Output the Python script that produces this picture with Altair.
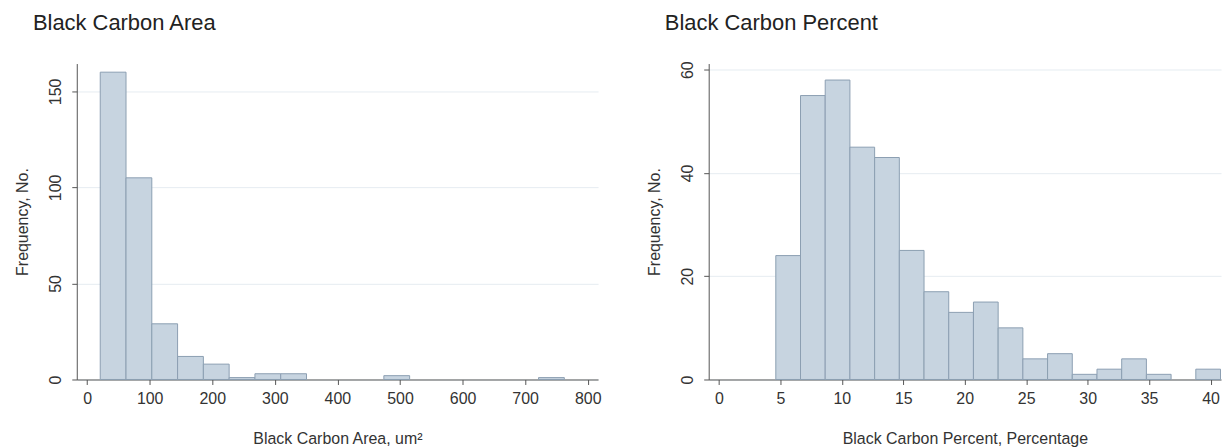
import altair as alt
import pandas as pd

# Black Carbon Area histogram (bin lower edges, um^2) and counts
area_lo = [21.0, 62.2, 103.4, 144.6, 185.8, 227.0, 268.2, 309.4, 350.6, 391.8,
           433.0, 474.2, 515.4, 556.6, 597.8, 639.0, 680.2, 721.4]
area_width = 41.2
area_counts = [160, 105, 29, 12, 8, 1, 3, 3, 0, 0, 0, 2, 0, 0, 0, 0, 0, 1]
area_xticks = [0, 100, 200, 300, 400, 500, 600, 700, 800]
area_yticks = [0, 50, 100, 150]

# Black Carbon Percent histogram (bin lower edges, %) and counts
pct_lo = [4.63, 6.64, 8.65, 10.66, 12.67, 14.68, 16.69, 18.70, 20.71, 22.72,
          24.73, 26.74, 28.75, 30.76, 32.77, 34.78, 36.79, 38.80]
pct_width = 2.01
pct_counts = [24, 55, 58, 45, 43, 25, 17, 13, 15, 10, 4, 5, 1, 2, 4, 1, 0, 2]
pct_xticks = [0, 5, 10, 15, 20, 25, 30, 35, 40]
pct_yticks = [0, 20, 40, 60]

FONT = "Liberation Sans"
FILL = "#c7d4e0"
STROKE = "#8c9fb2"


def panel(lo, width, counts, title, xtitle, xdomain, xticks, ydomain, yticks,
          toffset, pw):
    df = pd.DataFrame({
        "lo": lo,
        "hi": [v + width for v in lo],
        "count": counts,
    })
    df = df[df["count"] > 0]
    return alt.Chart(df).mark_rect(
        fill=FILL, stroke=STROKE, strokeWidth=1, opacity=1
    ).encode(
        x=alt.X("lo:Q",
                scale=alt.Scale(domain=xdomain, nice=False, zero=False),
                axis=alt.Axis(values=xticks, title=xtitle, grid=False,
                              labelFontSize=16, labelFont=FONT, labelColor="#333333",
                              labelPadding=6, tickSize=5, tickColor="#555555",
                              domainColor="#555555", titleFontSize=16, titleFont=FONT,
                              titleFontWeight="normal", titleColor="#333333",
                              titlePadding=24, labelFlush=False)),
        x2="hi:Q",
        y=alt.Y("count:Q",
                scale=alt.Scale(domain=ydomain, nice=False),
                axis=alt.Axis(values=yticks, title="Frequency, No.", grid=True,
                              gridColor="#e6ecf1", gridWidth=1,
                              labelAngle=270, labelFontSize=16, labelFont=FONT,
                              labelColor="#333333", labelPadding=8, tickSize=5,
                              tickColor="#555555", domainColor="#555555",
                              titleFontSize=16, titleFont=FONT, titleFontWeight="normal",
                              titleColor="#333333", titlePadding=17, labelFlush=False)),
        y2=alt.datum(0),
    ).properties(
        width=pw, height=317,
        title=alt.TitleParams(text=title, anchor="start", frame="group", dx=-44,
                              fontSize=22, font=FONT, fontWeight="normal",
                              color="#222222", offset=toffset),
    )


left = panel(area_lo, area_width, area_counts, "Black Carbon Area",
             "Black Carbon Area, um²", [-16.5, 816.5], area_xticks, [0, 164.5],
             area_yticks, 29, 523)
right = panel(pct_lo, pct_width, pct_counts, "Black Carbon Percent",
              "Black Carbon Percent, Percentage", [-0.83, 40.85], pct_xticks, [0, 61.2],
              pct_yticks, 26, 514)

chart = alt.hconcat(left, right, spacing=46).properties(
    background="white",
    padding={"left": 7, "top": 3, "right": 0, "bottom": 0},
).configure_view(stroke=None)

chart.save("out.html", embed_options={"renderer": "svg", "actions": False})
